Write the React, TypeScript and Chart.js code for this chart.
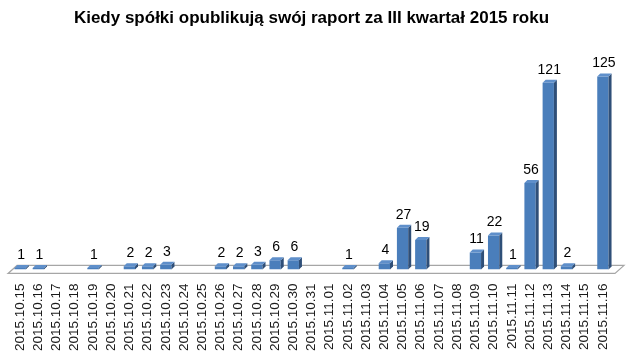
import React, { useEffect, useRef } from "react";
import { Chart, registerables } from "chart.js";

Chart.register(...registerables);

const TITLE = "Kiedy spółki opublikują swój raport za III kwartał 2015 roku";

const DATES = [
  "2015.10.15", "2015.10.16", "2015.10.17", "2015.10.18", "2015.10.19", "2015.10.20",
  "2015.10.21", "2015.10.22", "2015.10.23", "2015.10.24", "2015.10.25", "2015.10.26",
  "2015.10.27", "2015.10.28", "2015.10.29", "2015.10.30", "2015.10.31", "2015.11.01",
  "2015.11.02", "2015.11.03", "2015.11.04", "2015.11.05", "2015.11.06", "2015.11.07",
  "2015.11.08", "2015.11.09", "2015.11.10", "2015.11.11", "2015.11.12", "2015.11.13",
  "2015.11.14", "2015.11.15", "2015.11.16",
];

const COUNTS = [
  1, 1, 0, 0, 1, 0,
  2, 2, 3, 0, 0, 2,
  2, 3, 6, 6, 0, 0,
  1, 0, 4, 27, 19, 0,
  0, 11, 22, 1, 56, 121,
  2, 0, 125,
];

const DEPTH = 3;

const floorPlugin = {
  id: "floor3d",
  beforeDatasetsDraw(chart: any) {
    const { ctx, chartArea } = chart;
    const y0 = chart.scales.y.getPixelForValue(0);
    ctx.save();
    ctx.beginPath();
    ctx.moveTo(chartArea.left - 3, y0 + 4);
    ctx.lineTo(chartArea.left + 6, y0 - 4);
    ctx.lineTo(chartArea.right + 12, y0 - 4);
    ctx.lineTo(chartArea.right + 3, y0 + 4);
    ctx.closePath();
    ctx.fillStyle = "#ffffff";
    ctx.fill();
    ctx.strokeStyle = "#a6a6a6";
    ctx.lineWidth = 1.2;
    ctx.stroke();
    ctx.restore();
  },
};

const bar3dPlugin = {
  id: "bar3d",
  afterDatasetsDraw(chart: any) {
    const { ctx } = chart;
    const meta = chart.getDatasetMeta(0);
    const data = chart.data.datasets[0].data as number[];
    ctx.save();
    meta.data.forEach((bar: any, i: number) => {
      const v = data[i];
      if (!v) return;
      const { x, y, base, width } = bar.getProps(["x", "y", "base", "width"], true);
      const l = x - width / 2;
      const r = x + width / 2;
      ctx.beginPath();
      ctx.moveTo(r, y);
      ctx.lineTo(r + DEPTH, y - DEPTH);
      ctx.lineTo(r + DEPTH, base - DEPTH);
      ctx.lineTo(r, base);
      ctx.closePath();
      ctx.fillStyle = "#2f4f78";
      ctx.fill();
      ctx.beginPath();
      ctx.moveTo(l, y);
      ctx.lineTo(l + DEPTH, y - DEPTH);
      ctx.lineTo(r + DEPTH, y - DEPTH);
      ctx.lineTo(r, y);
      ctx.closePath();
      ctx.fillStyle = "#5f8fca";
      ctx.fill();
      ctx.fillStyle = "#000000";
      ctx.font = "14px 'Liberation Sans', Arial, sans-serif";
      ctx.textAlign = "center";
      ctx.textBaseline = "bottom";
      ctx.fillText(String(v), x + 1, y - 6);
    });
    ctx.restore();
  },
};

export default function App() {
  const ref = useRef<HTMLCanvasElement | null>(null);

  useEffect(() => {
    document.body.style.margin = "0";
    const canvas = ref.current!;
    const chart = new Chart(canvas, {
      type: "bar",
      data: {
        labels: DATES,
        datasets: [
          {
            data: COUNTS,
            backgroundColor: "#4a7ebb",
            borderWidth: 0,
            barPercentage: 0.62,
            categoryPercentage: 1,
          },
        ],
      },
      options: {
        animation: false,
        responsive: false,
        maintainAspectRatio: false,
        layout: { padding: { left: 11, right: 28, top: 0, bottom: 3 } },
        plugins: {
          legend: { display: false },
          tooltip: { enabled: false },
          title: {
            display: true,
            text: TITLE,
            color: "#000000",
            font: { family: "'Liberation Sans', Arial, sans-serif", size: 17, weight: "bold" },
            padding: { top: 8, bottom: 25 },
          },
        },
        scales: {
          x: {
            offset: true,
            grid: { display: false },
            border: { display: false },
            ticks: {
              minRotation: 90,
              maxRotation: 90,
              autoSkip: false,
              padding: 6,
              color: "#1a1a1a",
              font: { family: "'Liberation Sans', Arial, sans-serif", size: 13.5 },
            },
          },
          y: {
            display: false,
            min: 0,
            max: 140,
          },
        },
      },
      plugins: [floorPlugin, bar3dPlugin],
    });
    return () => chart.destroy();
  }, []);

  return (
    <div style={{ position: "fixed", left: 0, top: 0, width: 640, height: 360 }}>
      <canvas ref={ref} width={640} height={360} />
    </div>
  );
}
